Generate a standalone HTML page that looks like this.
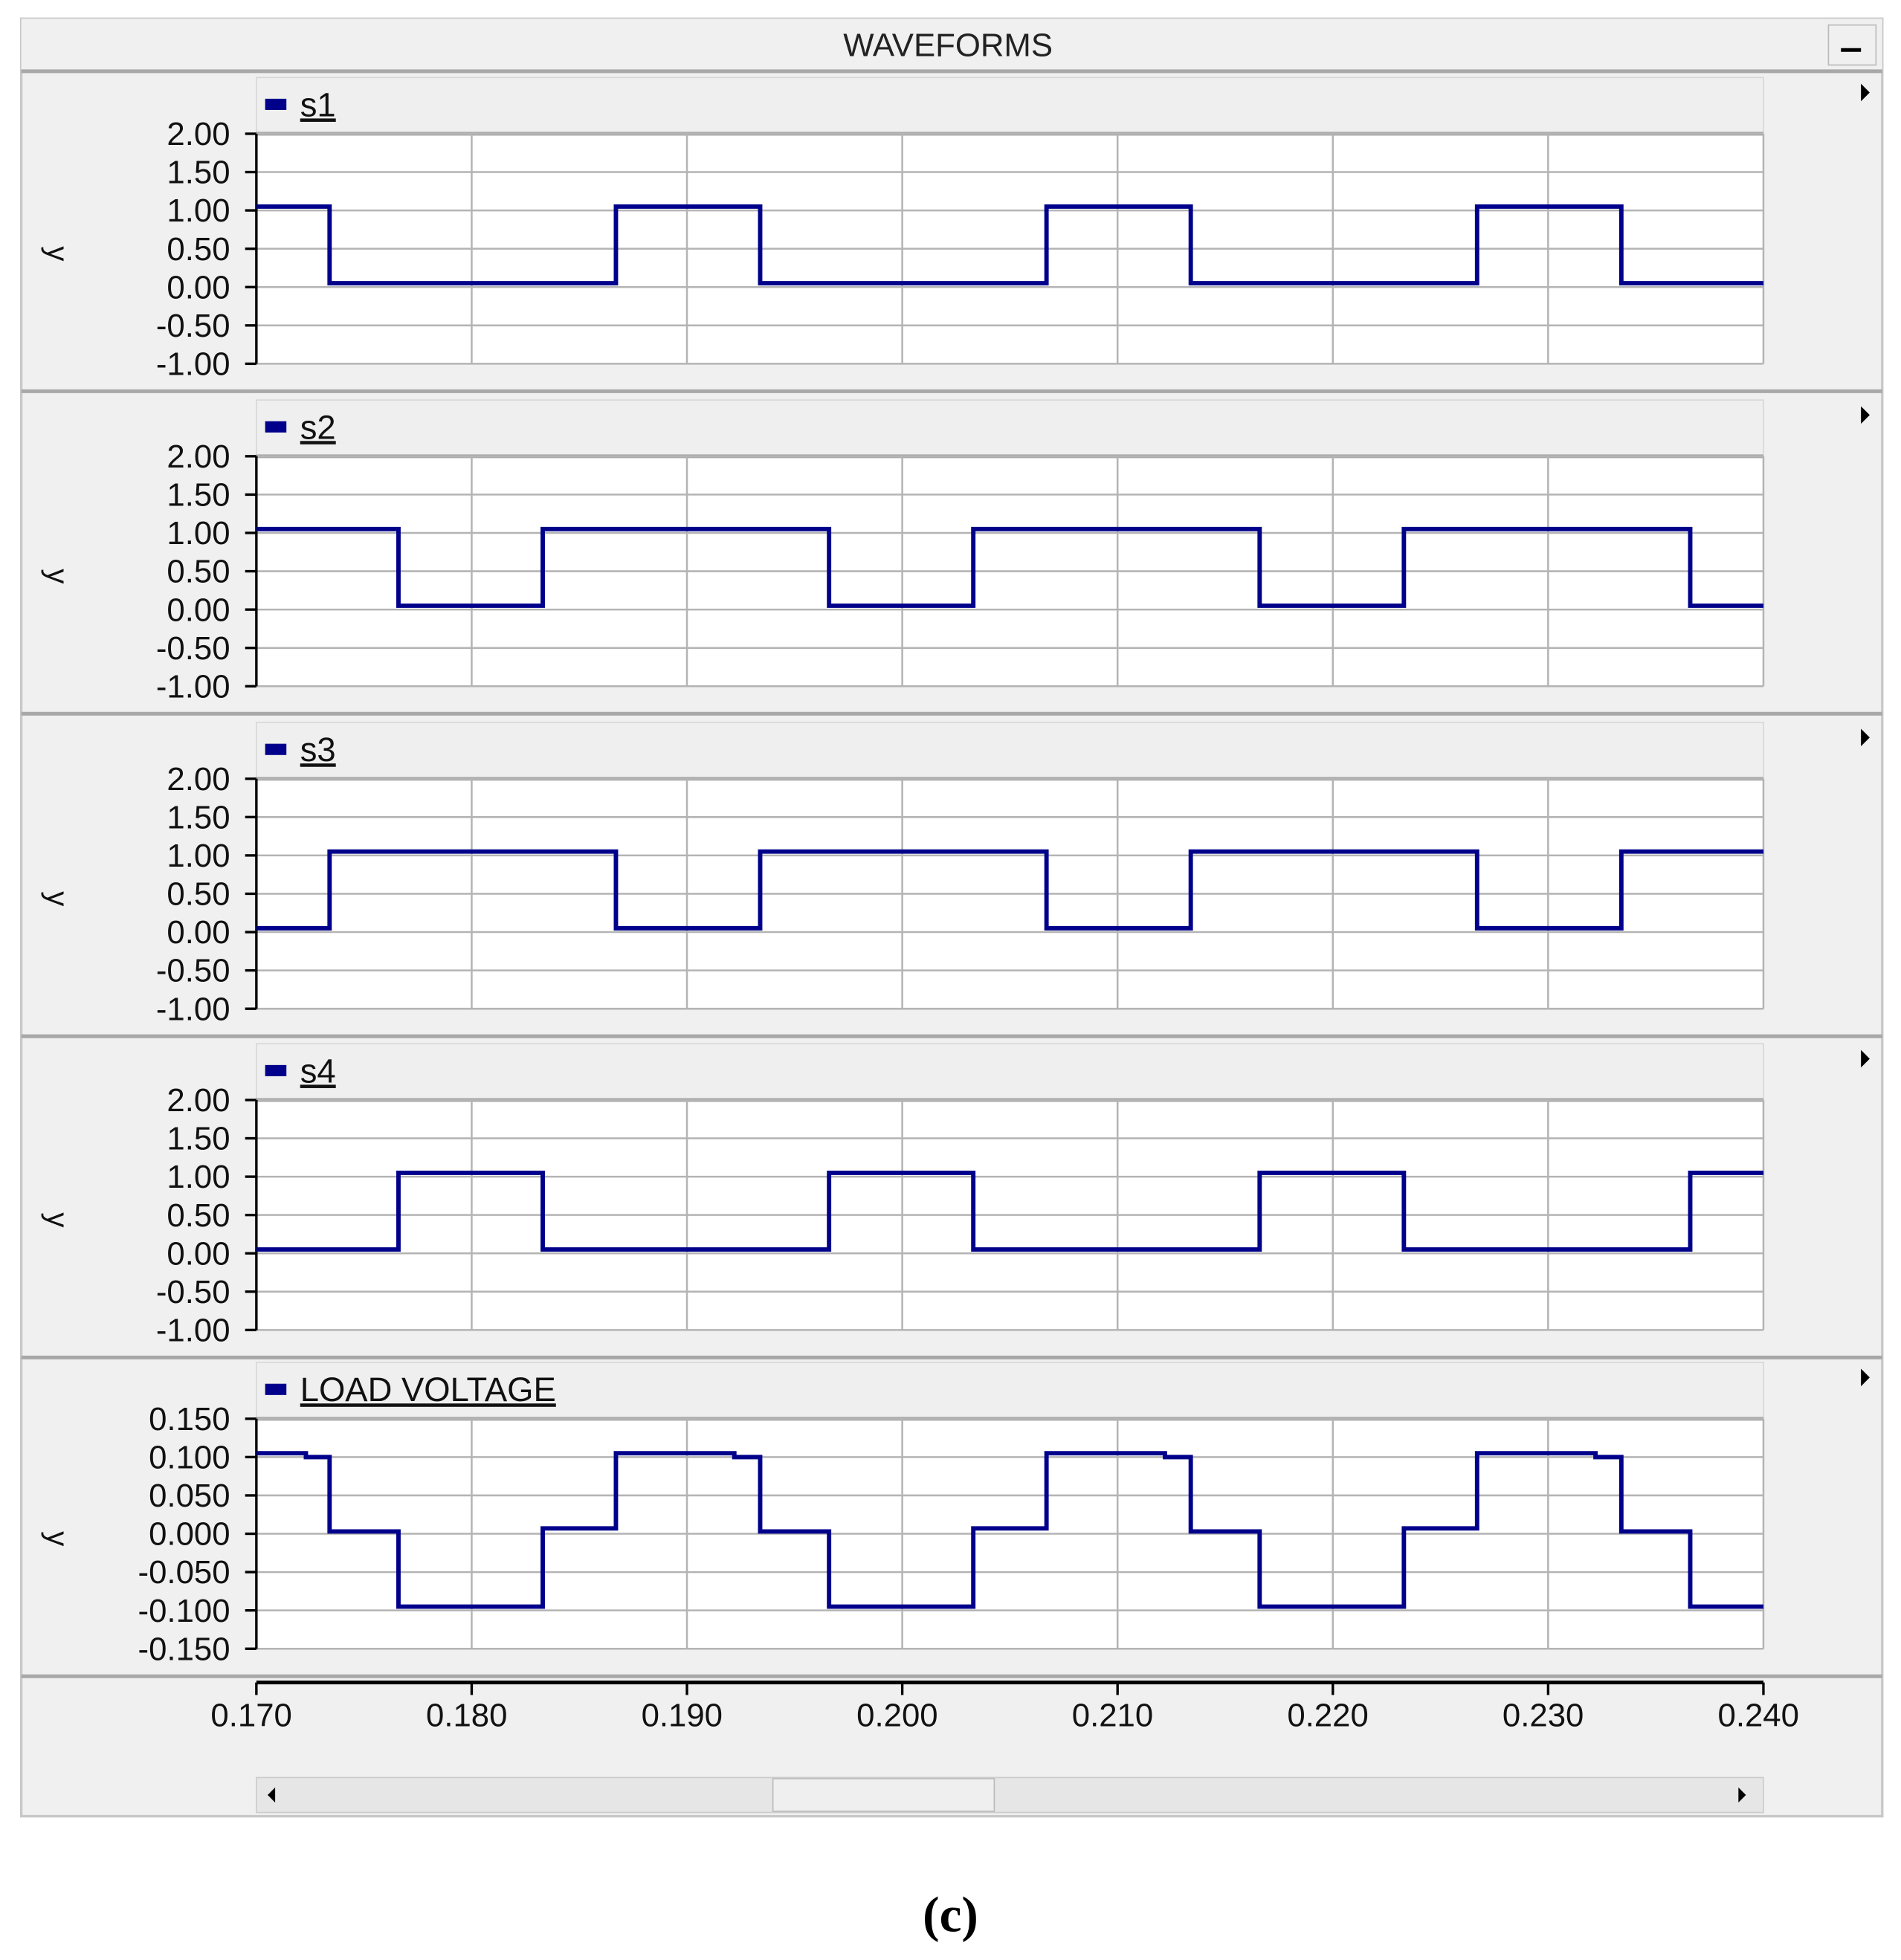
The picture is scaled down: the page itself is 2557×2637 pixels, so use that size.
<!DOCTYPE html>
<html><head><meta charset="utf-8"><style>
html,body{margin:0;padding:0;background:#fff;}
svg{display:block;}
text{font-family:"Liberation Sans",sans-serif;}
</style></head><body>
<svg id="chart" width="2557" height="2637" viewBox="0 0 1520 1568" preserveAspectRatio="none" xmlns="http://www.w3.org/2000/svg">
<rect x="17" y="15" width="1488" height="1438" fill="#f0f0f0" stroke="#c8c8c8" stroke-width="2"/>
<rect x="17" y="15" width="1488" height="42" fill="#f0f0f0"/>
<line x1="17" y1="57" x2="1505" y2="57" stroke="#a8a8a8" stroke-width="3"/>
<text x="758" y="45" font-size="26" text-anchor="middle" fill="#222">WAVEFORMS</text>
<g><rect x="1462" y="20" width="38" height="32" fill="#f0f0f0" stroke="#bbb"/><line x1="1472" y1="40" x2="1488" y2="40" stroke="#000" stroke-width="3"/></g>
<g id="panels"></g>
<g id="xaxis"></g>
<g>
<rect x="205" y="1422" width="1205" height="28" fill="#e6e6e6" stroke="#ccc"/>
<rect x="618" y="1423" width="177" height="26" fill="#efefef" stroke="#bbb"/>
<polygon points="220,1430 214,1436 220,1442" fill="#000"/>
<polygon points="1390,1430 1396,1436 1390,1442" fill="#000"/>
</g>
<text x="760" y="1545" font-size="40" font-weight="bold" text-anchor="middle" style="font-family:'Liberation Serif',serif" fill="#000">(c)</text>
</svg>
<script>
const xTicks=[0.170,0.180,0.190,0.200,0.210,0.220,0.230,0.240];
const xTickLabels=["0.170","0.180","0.190","0.200","0.210","0.220","0.230","0.240"];
const s1Times=[0.170,0.1734,0.1867,0.1934,0.2067,0.2134,0.2267,0.2334];
const s1Values=[1.05,0.05,1.05,0.05,1.05,0.05,1.05,0.05];
const s2Times=[0.170,0.1766,0.1833,0.1966,0.2033,0.2166,0.2233,0.2366];
const s2Values=[1.05,0.05,1.05,0.05,1.05,0.05,1.05,0.05];
const s3Times=[0.170,0.1734,0.1867,0.1934,0.2067,0.2134,0.2267,0.2334];
const s3Values=[0.05,1.05,0.05,1.05,0.05,1.05,0.05,1.05];
const s4Times=[0.170,0.1766,0.1833,0.1966,0.2033,0.2166,0.2233,0.2366];
const s4Values=[0.05,1.05,0.05,1.05,0.05,1.05,0.05,1.05];
const loadTimes=[0.170,0.1723,0.1734,0.1766,0.1833,0.1867,0.1922,0.1934,0.1966,0.2033,0.2067,0.2122,0.2134,0.2166,0.2233,0.2267,0.2322,0.2334,0.2366];
const loadValues=[0.105,0.100,0.003,-0.095,0.007,0.105,0.100,0.003,-0.095,0.007,0.105,0.100,0.003,-0.095,0.007,0.105,0.100,0.003,-0.095];
const sTicks=[2.0,1.5,1.0,0.5,0.0,-0.5,-1.0];
const sTickLabels=["2.00","1.50","1.00","0.50","0.00","-0.50","-1.00"];
const loadTicks=[0.15,0.10,0.05,0.0,-0.05,-0.10,-0.15];
const loadTickLabels=["0.150","0.100","0.050","0.000","-0.050","-0.100","-0.150"];

const NS="http://www.w3.org/2000/svg";
const X0=205,X1=1410,TMIN=0.170,TMAX=0.240;
function xs(t){return X0+(t-TMIN)/(TMAX-TMIN)*(X1-X0);}
function mk(tag,attrs,parent){const e=document.createElementNS(NS,tag);for(const k in attrs)e.setAttribute(k,attrs[k]);parent.appendChild(e);return e;}
const panelsG=document.getElementById('panels');
const panels=[
 {name:'s1',top:60,times:s1Times,vals:s1Values,ticks:sTicks,labels:sTickLabels},
 {name:'s2',top:318,times:s2Times,vals:s2Values,ticks:sTicks,labels:sTickLabels},
 {name:'s3',top:576,times:s3Times,vals:s3Values,ticks:sTicks,labels:sTickLabels},
 {name:'s4',top:833,times:s4Times,vals:s4Values,ticks:sTicks,labels:sTickLabels},
 {name:'LOAD VOLTAGE',top:1088,times:loadTimes,vals:loadValues,ticks:loadTicks,labels:loadTickLabels}
];
panels.forEach((p,i)=>{
 const g=mk('g',{},panelsG);
 
 
 const pt=p.top+47, pb=p.top+231;
 const ymax=p.ticks[0],ymin=p.ticks[p.ticks.length-1];
 const ys=v=>pt+(ymax-v)/(ymax-ymin)*(pb-pt);
 const hdr=mk('rect',{x:X0,y:p.top+2,width:X1-X0,height:45,fill:'#efefef',stroke:'#d8d8d8'},g);
 
 
 const plot=mk('rect',{x:X0,y:pt,width:X1-X0,height:pb-pt,fill:'#fff'},g);
 
 
 mk('line',{x1:X0,y1:pt,x2:X1,y2:pt,stroke:'#a8a8a8','stroke-width':3},g);
 xTicks.forEach(t=>{if(t>TMIN) mk('line',{x1:xs(t),y1:pt,x2:xs(t),y2:pb,stroke:'#b4b4b4','stroke-width':1.5},g);});
 p.ticks.forEach((v,j)=>{
  mk('line',{x1:X0,y1:ys(v),x2:X1,y2:ys(v),stroke:'#b4b4b4','stroke-width':1.5},g);
  mk('line',{x1:196,y1:ys(v),x2:X0,y2:ys(v),stroke:'#000','stroke-width':2},g);
  const tl=mk('text',{x:184,y:ys(v)+9,'font-size':26,'text-anchor':'end',fill:'#111'},g);
  tl.textContent=p.labels[j];
  
  
 });
 mk('line',{x1:X0,y1:pt,x2:X0,y2:pb,stroke:'#000','stroke-width':2},g);
 const yl=mk('text',{x:0,y:0,'font-size':24,'text-anchor':'middle',fill:'#111',transform:`translate(38,${(pt+pb)/2+4}) rotate(90)`},g);
 yl.textContent='y';
 
 
 const lg=mk('g',{},g);
 
 
 mk('rect',{x:212,y:p.top+19,width:17,height:9,fill:'#00008b'},lg);
 const lt=mk('text',{x:240,y:p.top+33,'font-size':27,fill:'#111','text-decoration':'underline'},lg);
 lt.textContent=p.name;
 const ar=mk('polygon',{points:`1488,${p.top+7} 1495,${p.top+14} 1488,${p.top+21}`,fill:'#000'},g);
 
 
 mk('line',{x1:17,y1:p.top+253,x2:1505,y2:p.top+253,stroke:'#a8a8a8','stroke-width':3},g);
 let d='';
 for(let k=0;k<p.times.length;k++){
  const x=xs(p.times[k]),y=ys(p.vals[k]);
  d+=(k===0?'M':'L')+x+','+y;
  const xn=xs(k+1<p.times.length?p.times[k+1]:TMAX);
  d+=' L'+xn+','+y+' ';
 }
 const path=mk('path',{d:d,fill:'none',stroke:'#00008b','stroke-width':3.5,'stroke-linejoin':'miter'},g);
 
 
});
const xa=document.getElementById('xaxis');


mk('line',{x1:X0,y1:1346,x2:X1,y2:1346,stroke:'#000','stroke-width':3},xa);
xTicks.forEach((t,i)=>{
 mk('line',{x1:xs(t),y1:1346,x2:xs(t),y2:1356,stroke:'#000','stroke-width':2},xa);
 const tl=mk('text',{x:xs(t)-4,y:1381,'font-size':26,'text-anchor':'middle',fill:'#111'},xa);
 tl.textContent=xTickLabels[i];
 
 
});
</script>
</body></html>
